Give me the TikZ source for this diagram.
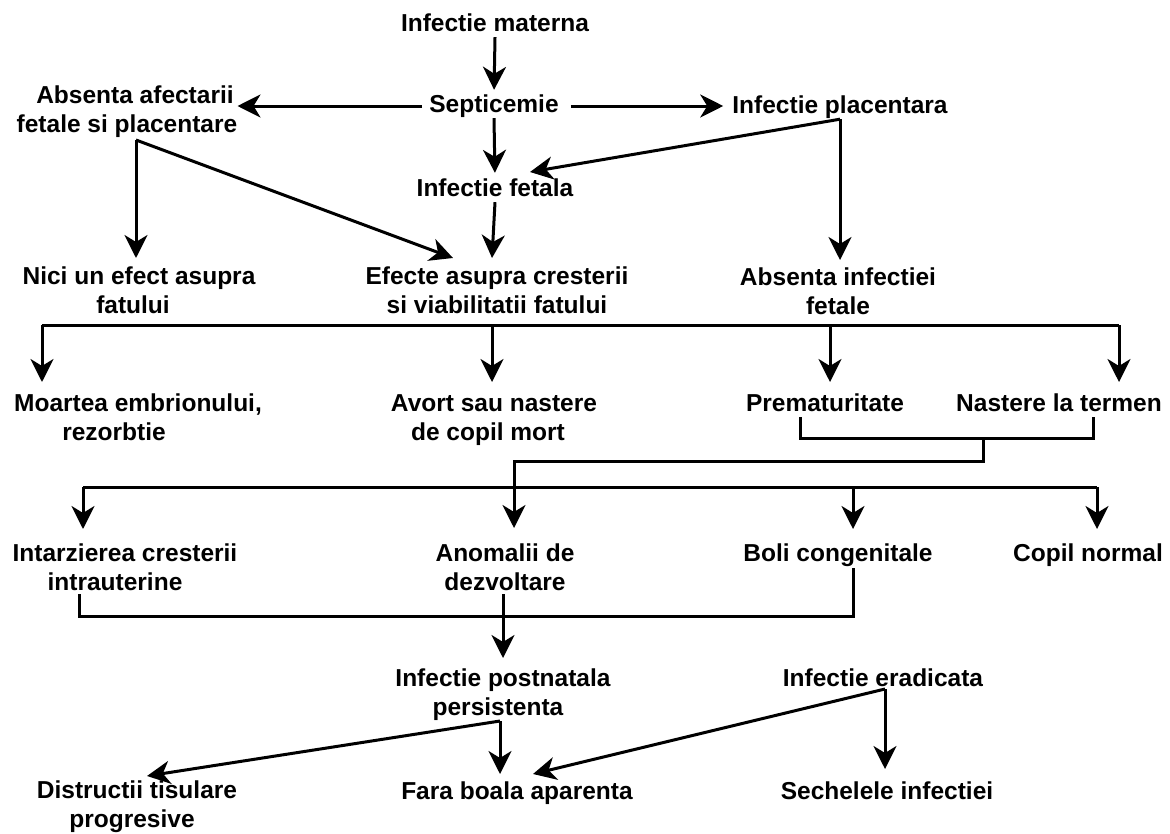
\documentclass[tikz,border=0pt]{standalone}
\usepackage{fontspec}
\setmainfont{Liberation Sans}
\usetikzlibrary{arrows.meta}
\tikzset{
  lbl/.style={font=\bfseries\fontsize{24.5}{29}\selectfont, inner sep=0pt, align=center, anchor=base},
  one/.style={lbl, text height=18pt, text depth=6pt},
  ln/.style={line width=3pt},
  arr/.style={ln, -{Stealth[length=23pt,width=23pt,inset=7pt]}}
}
\begin{document}
\begin{tikzpicture}[x=1pt,y=-1pt]
\useasboundingbox (0,0) rectangle (1170,833);
% nodes (multi-line nodes are placed at the baseline of their last line)
\node[one] (mat) at (495,31) {Infectie materna};
\node[one] (sep) at (494,112) {Septicemie};
\node[lbl] (abs) at (127,132) {\hspace*{16pt}Absenta afectarii\\fetale si placentare};
\node[one] (pla) at (840,113) {Infectie placentara};
\node[one] (fet) at (495,196) {Infectie fetala};
\node[lbl] (nici) at (139,313) {Nici un efect asupra\\fatului\hspace*{12pt}};
\node[lbl] (eff) at (497,313) {Efecte asupra cresterii\\si viabilitatii fatului};
\node[lbl] (ainf) at (838,314) {Absenta infectiei\\fetale};
\node[lbl] (moa) at (138,440) {Moartea embrionului,\\rezorbtie\hspace*{48pt}};
\node[lbl] (avo) at (494,440) {Avort sau nastere\\de copil mort\hspace*{12pt}};
\node[one] (pre) at (825,411) {Prematuritate};
\node[one] (nas) at (1059,411) {Nastere la termen};
\node[lbl] (int) at (125,590) {Intarzierea cresterii\\intrauterine\hspace*{20pt}};
\node[lbl] (ano) at (505,590) {Anomalii de\\dezvoltare};
\node[one] (bol) at (838,561) {Boli congenitale};
\node[one] (cop) at (1088,561) {Copil normal};
\node[lbl] (pos) at (503,715) {Infectie postnatala\\persistenta\hspace*{10pt}};
\node[one] (era) at (883,686) {Infectie eradicata};
\node[lbl] (dis) at (137,827) {Distructii tisulare\\progresive\hspace*{10pt}};
\node[one] (far) at (517,799) {Fara boala aparenta};
\node[one] (sec) at (887,799) {Sechelele infectiei};
% junction coordinates
\coordinate (ac) at (136,140);
\coordinate (tpf) at (530,172);
\coordinate (te) at (453,258);
\coordinate (b1a) at (42,325);
\coordinate (b1b) at (492,325);
\coordinate (b1c) at (830,325);
\coordinate (b1d) at (1119,325);
\coordinate (br1) at (800,417);
\coordinate (br2) at (1093,417);
\coordinate (brm) at (983,438);
\coordinate (brl) at (514,461);
\coordinate (c1) at (83,487);
\coordinate (c3) at (853,487);
\coordinate (c4) at (1097,487);
\coordinate (d1) at (79,594);
\coordinate (d2) at (503,616);
\coordinate (d3) at (853,568);
\coordinate (dm) at (503,594);
\coordinate (pc) at (500,721);
\coordinate (ec) at (885,689);
\coordinate (tdi) at (147,776);
\coordinate (tfa) at (533,774);
\coordinate (tnici) at (136,258);
\coordinate (tfe) at (492,258);
\coordinate (tain) at (840,260);
\coordinate (tmoa) at (42,382);
\coordinate (tavo) at (492,382);
\coordinate (tpre) at (830,382);
\coordinate (tnas) at (1119,382);
\coordinate (tano) at (514,528);
\coordinate (tint) at (83,529);
\coordinate (tbol) at (853,529);
\coordinate (tcop) at (1097,529);
\coordinate (tpos) at (503,658);
\coordinate (tfar) at (500,774);
\coordinate (tsec) at (885,769);
% connectors
\draw[arr, shorten >=4pt] (mat.south) -- (sep.north);
\draw[arr] ([xshift=-7pt]sep.west) -- (abs.east |- sep.west);
\draw[arr, shorten >=9pt] ([xshift=12pt]sep.east) -- (pla.west |- sep.east);
\draw[arr, shorten >=5pt] (sep.south) -- (fet.north);
\draw[arr] (pla.south) -- (tpf);
\draw[arr] (pla.south) -- (tain);
\draw[arr] (ac) -- (tnici);
\draw[arr] (ac) -- (te);
\draw[arr] (fet.south) -- (tfe);
% bus 1
\draw[ln] (b1a) -- (b1d);
\draw[arr] (b1a) -- (tmoa);
\draw[arr] (b1b) -- (tavo);
\draw[arr] (b1c) -- (tpre);
\draw[arr] (b1d) -- (tnas);
% bracket under Prematuritate / Nastere la termen
\draw[ln] (br1) |- (br2 |- brm) -- (br2);
\draw[arr] (brm) |- (brl) -- (tano);
% bus 2
\draw[ln] (c1) -- (c4);
\draw[arr] (c1) -- (tint);
\draw[arr] (c3) -- (tbol);
\draw[arr] (c4) -- (tcop);
% lower bracket
\draw[ln] (d1) |- (d2) -| (d3);
\draw[arr] (dm) -- (tpos);
% bottom
\draw[arr] (pc) -- (tfar);
\draw[arr] (pc) -- (tdi);
\draw[arr] (ec) -- (tsec);
\draw[arr] (ec) -- (tfa);
\end{tikzpicture}
\end{document}
